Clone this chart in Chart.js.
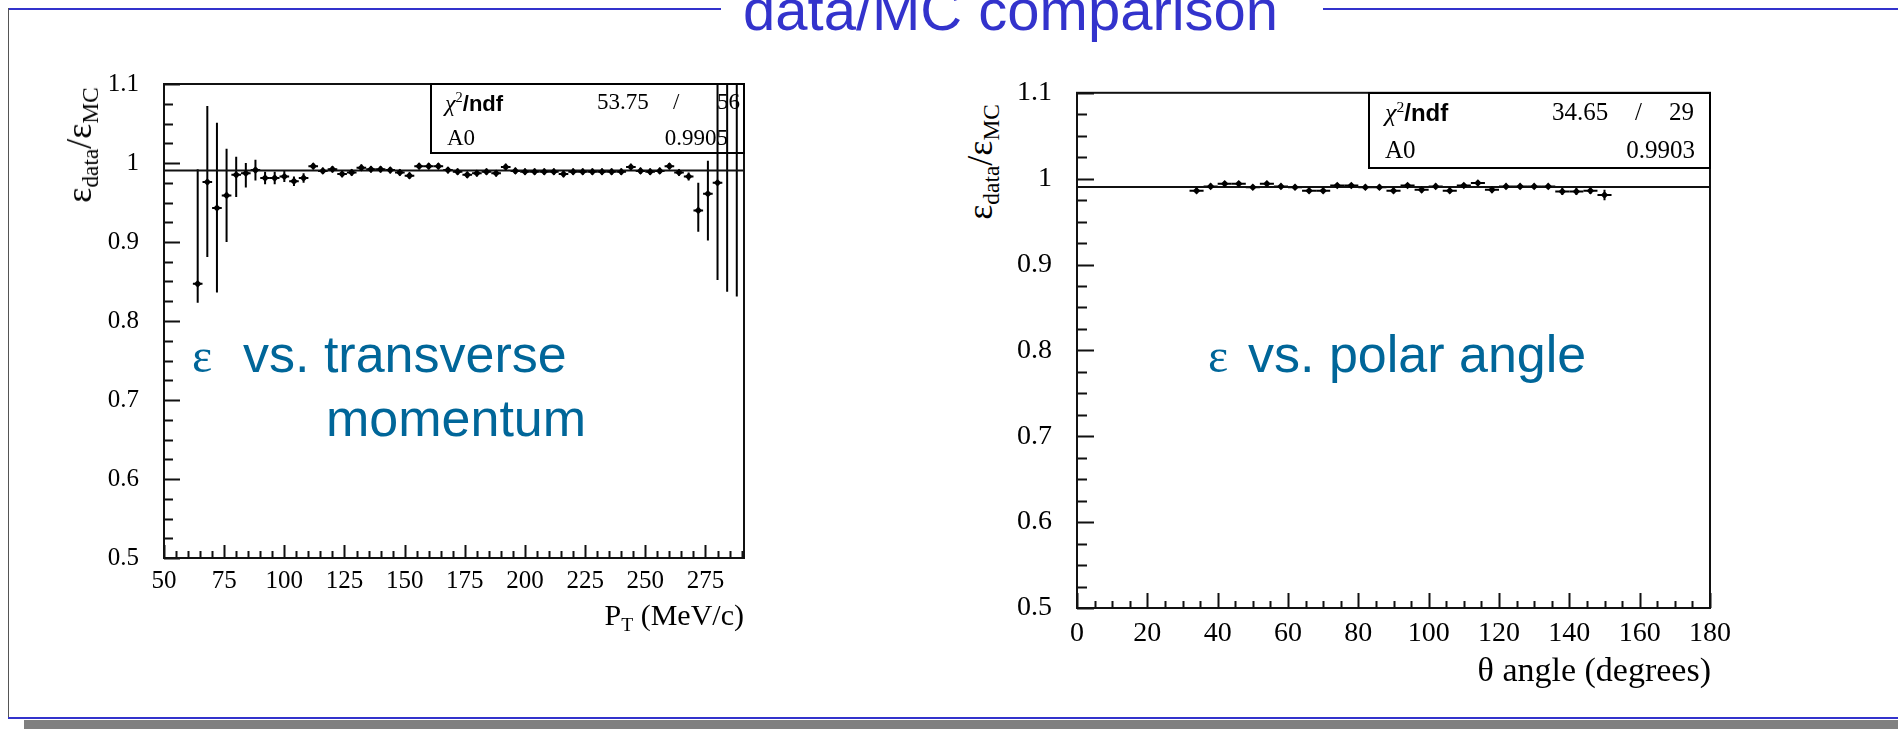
<!DOCTYPE html>
<html>
<head>
<meta charset="utf-8">
<script src="https://cdn.jsdelivr.net/npm/chart.js@4.4.1/dist/chart.umd.min.js"></script>
<style>
  body { margin: 0; background: #fff; }
  #page { position: relative; width: 1898px; height: 729px; overflow: hidden; background: #fff; }
  .abs { position: absolute; white-space: nowrap; line-height: 1; }
  .box { position: absolute; }
  .root { font-family: 'Liberation Serif', serif; color: #000; }
  .blue { font-family: 'Liberation Sans', Arial, sans-serif; color: #006699; font-size: 52px; }
  .eps { font-family: 'Liberation Serif', serif; color: #006699; font-size: 48px; }
  .stat { position: absolute; border: 2px solid #000; box-sizing: border-box; }
  sub { font-size: 0.65em; vertical-align: -0.3em; line-height: 0; }
  sup { font-size: 0.6em; vertical-align: 0.6em; line-height: 0; }
</style>
</head>
<body>
<div id="page">
  <!-- slide frame -->
  <div class="box" style="left:8px; top:8px; width:713px; height:2px; background:#3333cc;"></div>
  <div class="box" style="left:1323px; top:8px; width:575px; height:2px; background:#3333cc;"></div>
  <div class="box" style="left:8px; top:8px; width:1px; height:710px; background:#555;"></div>
  <div class="box" style="left:8px; top:717px; width:1890px; height:2px; background:#3333cc;"></div>
  <div class="box" style="left:24px; top:720px; width:1874px; height:9px; background:#808080;"></div>
  <div class="abs" style="left:743px; top:-19px; font-family:'Liberation Sans', Arial, sans-serif; font-size:58px; color:#3333cc;">data/MC comparison</div>

  <div class="box" style="left:100px; top:44px; width:660px; height:560px;"><canvas id="ptChart"></canvas></div>
  <div class="box" style="left:1010px; top:51px; width:740px; height:612px;"><canvas id="thetaChart"></canvas></div>

  <!-- left panel texts -->
  <div class="abs root" style="left:79px; top:145px; font-size:36px; transform:translate(-50%,-50%) rotate(-90deg);">ε<sub>data</sub>/ε<sub>MC</sub></div>
  <div class="abs root" style="right:1154px; top:600px; font-size:30px;">P<sub>T</sub> (MeV/c)</div>
  <div class="stat" style="left:430px; top:83px; width:315px; height:71px;"></div>
  <div class="abs root" style="left:445px; top:91px; font-size:24px;"><i>χ</i><sup>2</sup><span style="font-family:'Liberation Sans',sans-serif; font-weight:bold; font-size:22px;">/ndf</span></div>
  <div class="abs root" style="left:597px; top:90px; font-size:23px;">53.75</div>
  <div class="abs root" style="left:673px; top:90px; font-size:23px;">/</div>
  <div class="abs root" style="left:717px; top:90px; font-size:23px;">56</div>
  <div class="abs root" style="left:447px; top:126px; font-size:23px;">A0</div>
  <div class="abs root" style="right:1170px; top:126px; font-size:23px;">0.9905</div>
  <div class="abs eps" style="left:192px; top:332px;">ε</div>
  <div class="abs blue" style="left:243px; top:328px;">vs. transverse</div>
  <div class="abs blue" style="left:326px; top:392px;">momentum</div>

  <!-- right panel texts -->
  <div class="abs root" style="left:980px; top:162px; font-size:36px; transform:translate(-50%,-50%) rotate(-90deg);">ε<sub>data</sub>/ε<sub>MC</sub></div>
  <div class="abs root" style="right:187px; top:653px; font-size:34px;">θ angle (degrees)</div>
  <div class="stat" style="left:1368px; top:92px; width:343px; height:77px;"></div>
  <div class="abs root" style="left:1385px; top:100px; font-size:26px;"><i>χ</i><sup>2</sup><span style="font-family:'Liberation Sans',sans-serif; font-weight:bold; font-size:24px;">/ndf</span></div>
  <div class="abs root" style="left:1552px; top:99px; font-size:25px;">34.65</div>
  <div class="abs root" style="left:1635px; top:99px; font-size:25px;">/</div>
  <div class="abs root" style="left:1669px; top:99px; font-size:25px;">29</div>
  <div class="abs root" style="left:1385px; top:137px; font-size:25px;">A0</div>
  <div class="abs root" style="right:203px; top:137px; font-size:25px;">0.9903</div>
  <div class="abs eps" style="left:1208px; top:332px;">ε</div>
  <div class="abs blue" style="left:1248px; top:328px;">vs. polar angle</div>
</div>

<script>
// efficiency ratio data/MC vs transverse momentum (MeV/c)
const ptBins = [64, 68, 72, 76, 80, 84, 88, 92, 96, 100, 104, 108,
  112, 116, 120, 124, 128, 132, 136, 140, 144, 148, 152, 156, 160, 164, 168,
  172, 176, 180, 184, 188, 192, 196, 200, 204, 208, 212, 216, 220, 224, 228,
  232, 236, 240, 244, 248, 252, 256, 260, 264, 268,
  272, 276, 280, 284, 288]
const ptRatio = [0.847, 0.976, 0.943, 0.959, 0.985, 0.987, 0.991, 0.981, 0.981, 0.983, 0.977, 0.981,
  0.996, 0.990, 0.992, 0.986, 0.988, 0.994, 0.992, 0.992, 0.991, 0.988, 0.984, 0.996, 0.996, 0.996, 0.991,
  0.989, 0.985, 0.987, 0.989, 0.987, 0.995, 0.990, 0.989, 0.989, 0.989, 0.989, 0.986, 0.989, 0.989, 0.989,
  0.989, 0.989, 0.989, 0.995, 0.990, 0.989, 0.990, 0.996, 0.988, 0.983,
  0.940, 0.961, 0.975, 1.13, 1.16]
const ptErrUp = [0.145, 0.096, 0.108, 0.059, 0.023, 0.013, 0.013, 0.008, 0.008, 0.007, 0.006, 0.006,
  0.004, 0.004, 0.004, 0.004, 0.004, 0.004, 0.004, 0.004, 0.004, 0.004, 0.004, 0.004, 0.004, 0.004, 0.004,
  0.004, 0.004, 0.004, 0.004, 0.004, 0.004, 0.004, 0.004, 0.004, 0.004, 0.004, 0.004, 0.004, 0.004, 0.004,
  0.004, 0.004, 0.004, 0.004, 0.004, 0.004, 0.004, 0.004, 0.004, 0.005,
  0.035, 0.042, 0.15, 0.1, 0.1]
const ptErrDown = [0.024, 0.095, 0.107, 0.059, 0.028, 0.018, 0.013, 0.008, 0.008, 0.007, 0.006, 0.006,
  0.004, 0.004, 0.004, 0.004, 0.004, 0.004, 0.004, 0.004, 0.004, 0.004, 0.004, 0.004, 0.004, 0.004, 0.004,
  0.004, 0.004, 0.004, 0.004, 0.004, 0.004, 0.004, 0.004, 0.004, 0.004, 0.004, 0.004, 0.004, 0.004, 0.004,
  0.004, 0.004, 0.004, 0.004, 0.004, 0.004, 0.004, 0.004, 0.004, 0.005,
  0.027, 0.059, 0.123, 0.293, 0.329]
const ptFitA0 = 0.9905

// efficiency ratio data/MC vs polar angle (degrees)
const thetaBins = [34, 38, 42, 46, 50, 54, 58, 62, 66, 70, 74, 78, 82, 86, 90,
  94, 98, 102, 106, 110, 114, 118, 122, 126, 130, 134, 138, 142, 146, 150]
const thetaRatio = [0.986, 0.991, 0.994, 0.994, 0.990, 0.994, 0.991, 0.990, 0.986, 0.986, 0.992, 0.992, 0.990, 0.990, 0.986,
  0.992, 0.987, 0.991, 0.986, 0.992, 0.995, 0.987, 0.991, 0.991, 0.991, 0.991, 0.985, 0.985, 0.986, 0.981]
const thetaErr = [0.003, 0.003, 0.003, 0.003, 0.003, 0.003, 0.003, 0.003, 0.003, 0.003, 0.003, 0.003, 0.003, 0.003, 0.003,
  0.003, 0.003, 0.003, 0.003, 0.003, 0.003, 0.003, 0.003, 0.003, 0.003, 0.003, 0.004, 0.004, 0.004, 0.006]
const thetaFitA0 = 0.9903

// tick labels
const ptTicks = [50, 75, 100, 125, 150, 175, 200, 225, 250, 275]
const thetaTicks = [0, 20, 40, 60, 80, 100, 120, 140, 160, 180]
const ratioTicks = [0.5, 0.6, 0.7, 0.8, 0.9, 1, 1.1]

// ROOT-like frame, inward ticks and error bars
const rootFrame = {
    id: 'rootFrame',
    beforeDatasetsDraw(chart){
        const ctx = chart.ctx, area = chart.chartArea
        const xs = chart.scales.x, ys = chart.scales.y
        ctx.save()
        ctx.beginPath()
        ctx.rect(area.left, area.top, area.right - area.left, area.bottom - area.top)
        ctx.clip()
        ctx.strokeStyle = '#000'
        ctx.lineWidth = 2
        chart.data.datasets.forEach(ds => {
            if(!ds.errUp) return
            ds.data.forEach((p, j) => {
                const px = xs.getPixelForValue(p.x)
                const py = ys.getPixelForValue(p.y)
                ctx.beginPath()
                ctx.moveTo(px, ys.getPixelForValue(p.y - ds.errDown[j]))
                ctx.lineTo(px, ys.getPixelForValue(p.y + ds.errUp[j]))
                ctx.moveTo(xs.getPixelForValue(p.x - ds.halfBin), py)
                ctx.lineTo(xs.getPixelForValue(p.x + ds.halfBin), py)
                ctx.stroke()
            })
        })
        ctx.restore()
    },
    afterDatasetsDraw(chart, args, opts){
        const ctx = chart.ctx, area = chart.chartArea
        const xs = chart.scales.x, ys = chart.scales.y
        ctx.save()
        ctx.strokeStyle = '#111'
        ctx.lineWidth = 2
        ctx.strokeRect(area.left, area.top, area.right - area.left, area.bottom - area.top)
        ctx.beginPath()
        const xMajor = xs.ticks.map(t => t.value)
        const nx = Math.floor((xs.max - xs.min) / opts.xStep + 1e-6)
        for(let i = 0; i <= nx; i++){
            const v = xs.min + i * opts.xStep
            const len = xMajor.some(m => Math.abs(m - v) < 1e-6) ? opts.xMajorLen : opts.xMinorLen
            const px = Math.round(xs.getPixelForValue(v)) + 0.5
            ctx.moveTo(px, area.bottom)
            ctx.lineTo(px, area.bottom - len)
        }
        const yMajor = ys.ticks.map(t => t.value)
        const ny = Math.round((ys.max - ys.min) / opts.yStep)
        for(let i = 0; i <= ny; i++){
            const v = ys.min + i * opts.yStep
            const len = yMajor.some(m => Math.abs(m - v) < 1e-6) ? opts.yMajorLen : opts.yMinorLen
            const py = Math.round(ys.getPixelForValue(v)) + 0.5
            ctx.moveTo(area.left, py)
            ctx.lineTo(area.left + len, py)
        }
        ctx.stroke()
        ctx.restore()
    }
}

function makePanel(id, p){
    return new Chart(document.getElementById(id), {
        type: 'scatter',
        data: {
            datasets: [{
                data: p.x.map((x, i) => ({x: x, y: p.y[i]})),
                errUp: p.errUp,
                errDown: p.errDown,
                halfBin: 2,
                pointStyle: 'rectRot',
                pointRadius: 3.8,
                backgroundColor: '#000',
                borderWidth: 0,
                order: 0
            }, {
                type: 'line',
                data: [{x: p.xMin, y: p.fit}, {x: p.xMax, y: p.fit}],
                borderColor: '#111',
                borderWidth: 2,
                pointRadius: 0,
                order: 1
            }]
        },
        options: {
            animation: false,
            responsive: true,
            maintainAspectRatio: false,
            devicePixelRatio: 1,
            events: [],
            layout: { padding: p.padding },
            plugins: {
                legend: { display: false },
                tooltip: { enabled: false },
                rootFrame: p.frame
            },
            scales: {
                x: {
                    type: 'linear',
                    min: p.xMin,
                    max: p.xMax,
                    afterBuildTicks: s => { s.ticks = p.xTicks.map(v => ({value: v})) },
                    afterFit: s => { s.height = p.xHeight },
                    grid: { display: false, drawTicks: false },
                    border: { display: false },
                    ticks: {
                        autoSkip: false, maxRotation: 0, minRotation: 0,
                        padding: p.xPad, color: '#000',
                        font: { family: 'Liberation Serif', size: p.fontSize },
                        callback: v => String(v)
                    }
                },
                y: {
                    type: 'linear',
                    min: 0.5,
                    max: 1.1,
                    afterBuildTicks: s => { s.ticks = ratioTicks.map(v => ({value: v})) },
                    afterFit: s => { s.width = p.yWidth },
                    grid: { display: false, drawTicks: false },
                    border: { display: false },
                    ticks: {
                        padding: 25, color: '#000',
                        font: { family: 'Liberation Serif', size: p.fontSize },
                        callback: v => String(v)
                    }
                }
            }
        },
        plugins: [rootFrame]
    })
}

makePanel('ptChart', {
    x: ptBins, y: ptRatio, errUp: ptErrUp, errDown: ptErrDown, fit: ptFitA0,
    xMin: 50, xMax: 291, xTicks: ptTicks,
    padding: { left: 0, right: 16, top: 0, bottom: 6 },
    xHeight: 40, yWidth: 64, xPad: 8, fontSize: 25,
    frame: { xStep: 5, yStep: 0.025, xMajorLen: 13, xMinorLen: 7, yMajorLen: 16, yMinorLen: 9 }
})

makePanel('thetaChart', {
    x: thetaBins, y: thetaRatio, errUp: thetaErr, errDown: thetaErr, fit: thetaFitA0,
    xMin: 0, xMax: 180, xTicks: thetaTicks,
    padding: { left: 0, right: 40, top: 0, bottom: 11 },
    xHeight: 44, yWidth: 67, xPad: 9, fontSize: 28,
    frame: { xStep: 5, yStep: 0.025, xMajorLen: 15, xMinorLen: 7, yMajorLen: 17, yMinorLen: 10 }
})
</script>
</body>
</html>
